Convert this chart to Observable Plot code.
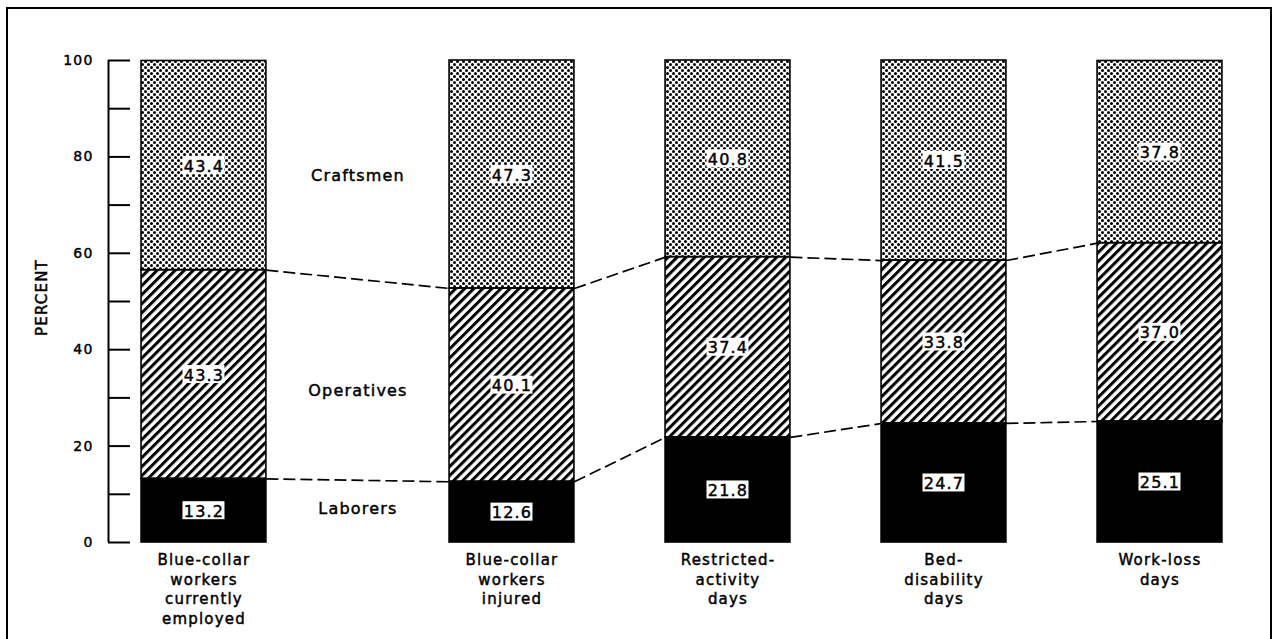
<!DOCTYPE html>
<html><head><meta charset="utf-8">
<script src="https://cdn.jsdelivr.net/npm/d3@7"></script>
<script src="https://cdn.jsdelivr.net/npm/@observablehq/plot@0.6"></script>
<style>
html,body{margin:0;padding:0;background:#fff;width:1273px;height:639px;overflow:hidden;}
#wrap{position:relative;width:1273px;height:639px;}
#border{position:absolute;left:6px;top:7px;width:1262px;height:640px;border:2px solid #000;border-bottom:none;}
#chart{position:absolute;left:0;top:0;}
#chart svg text{letter-spacing:1.2px;stroke:#000;stroke-width:0.45px;}
</style></head>
<body>
<svg width="0" height="0" style="position:absolute">
<defs>
<pattern id="dots" patternUnits="userSpaceOnUse" width="6" height="6">
<circle cx="1.5" cy="1.5" r="1.5" fill="#000"/><circle cx="4.5" cy="4.5" r="1.5" fill="#000"/>
</pattern>
<pattern id="hatch" patternUnits="userSpaceOnUse" width="6.4" height="10" patternTransform="rotate(45)">
<rect x="0" y="0" width="3" height="10" fill="#000"/>
</pattern>
</defs></svg>
<div id="wrap"><div id="border"></div><div id="chart"></div></div>
<script>
// ---- data ----
const categories = [
  "Blue-collar\nworkers\ncurrently\nemployed",
  "Blue-collar\nworkers\ninjured",
  "Restricted-\nactivity\ndays",
  "Bed-\ndisability\ndays",
  "Work-loss\ndays"
];
const occupations = ["Laborers", "Operatives", "Craftsmen"];
const laborers   = [13.2, 12.6, 21.8, 24.7, 25.1];
const operatives = [43.3, 40.1, 37.4, 33.8, 37.0];
const craftsmen  = [43.4, 47.3, 40.8, 41.5, 37.8];
const yTicks = [0, 10, 20, 30, 40, 50, 60, 70, 80, 90, 100];
const yTickLabels = [0, 20, 40, 60, 80, 100];
const yTitle = "PERCENT";

// ---- layout (slot units along x) ----
const GAP = 0.426;      // extra room after first bar for the series labels
const HALF = 0.289;     // half bar width
const slot = i => (i === 0 ? 0 : i + GAP);
const xDomain = [-0.442, 4.72];

const series = [laborers, operatives, craftsmen];
const fills = {Laborers: "black", Operatives: "url(#hatch)", Craftsmen: "url(#dots)"};

const rows = [];
categories.forEach((c, i) => {
  let cum = 0;
  occupations.forEach((o, k) => {
    const v = series[k][i];
    rows.push({cat: c, i, occ: o, x: slot(i), x1: slot(i) - HALF, x2: slot(i) + HALF,
               y1: cum, y2: cum + v, mid: cum + v / 2, value: v});
    cum += v;
  });
});

// dashed connectors between segment boundaries
const links = [];
for (let i = 0; i < categories.length - 1; i++) {
  const b0 = [laborers[i], laborers[i] + operatives[i]];
  const b1 = [laborers[i + 1], laborers[i + 1] + operatives[i + 1]];
  for (let j = 0; j < 2; j++) {
    links.push({x1: slot(i) + HALF, x2: slot(i + 1) - HALF, y1: b0[j], y2: b1[j]});
  }
}

// series labels between first and second bar
const labelX = (slot(0) + HALF + slot(1) - HALF) / 2;
const seriesLabels = occupations.map((o, k) => ({
  occ: o,
  x: labelX,
  y: (rows.find(r => r.i === 0 && r.occ === o).mid + rows.find(r => r.i === 1 && r.occ === o).mid) / 2
}));
const labelDy = {Craftsmen: 6, Operatives: 11, Laborers: -3};

const font = "DejaVu Sans";

const plot = Plot.plot({
  width: 1273,
  height: 639,
  marginTop: 60,
  marginBottom: 97,
  marginLeft: 108,
  marginRight: 50,
  style: {fontFamily: font, background: "transparent", overflow: "visible", color: "#000"},
  x: {domain: xDomain, axis: null},
  y: {domain: [0, 100], axis: null},
  marks: [
    ...occupations.map(o =>
      Plot.rect(rows.filter(r => r.occ === o), {
        x1: "x1", x2: "x2", y1: "y1", y2: "y2",
        fill: fills[o], stroke: "black", strokeWidth: 1.6
      })
    ),
    Plot.link(links, {x1: "x1", y1: "y1", x2: "x2", y2: "y2",
      stroke: "black", strokeWidth: 1.7, strokeDasharray: "12,5"}),
    // white boxes behind values
    Plot.rect(rows, {x1: "x", x2: "x", y1: "mid", y2: "mid",
      insetLeft: -21, insetRight: -21, insetTop: -9, insetBottom: -9, fill: "white"}),
    Plot.text(rows, {x: "x", y: "mid", text: d => d.value.toFixed(1),
      fontSize: 16, fill: "black", dy: 1}),
    // series labels
    ...seriesLabels.map(s =>
      Plot.text([s], {x: "x", y: "y", text: "occ", fontSize: 16, fill: "black", dy: labelDy[s.occ]})
    ),
    // category labels
    Plot.text(categories.map((c, i) => ({c, x: slot(i)})), {
      x: "x", y: () => 0, text: "c", lineAnchor: "top", dy: 9, lineHeight: 1.3,
      fontSize: 15, fill: "black"
    }),
    // y axis
    Plot.ruleX([xDomain[0]], {y1: 0, y2: 100, stroke: "black", strokeWidth: 2}),
    Plot.axisY(yTicks, {
      anchor: "left", tickSize: -22, tickPadding: 37, strokeWidth: 2,
      tickFormat: d => (yTickLabels.includes(d) ? String(d) : ""),
      fontSize: 14, label: null
    }),
    Plot.text([yTitle], {frameAnchor: "left", text: d => d, rotate: -90, textAnchor: "middle",
      dx: -66, dy: -4, fontSize: 15, fill: "black"})
  ]
});
document.getElementById("chart").appendChild(plot);
</script>
</body></html>
